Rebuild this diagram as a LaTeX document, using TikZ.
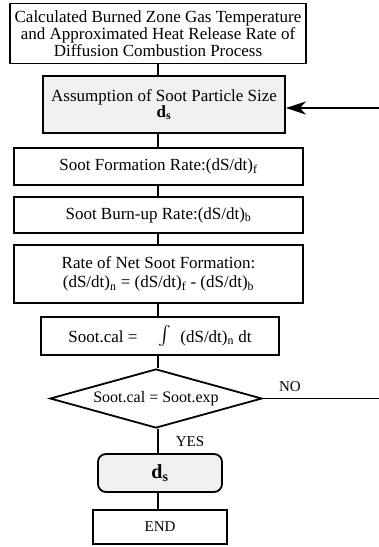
\documentclass[tikz,border=0pt]{standalone}
\usepackage{fontspec}
\usepackage{graphicx}
\setmainfont{Liberation Serif}
\usetikzlibrary{shapes.geometric,arrows.meta}
\begin{document}
\begin{tikzpicture}[x=1pt,y=-1pt,
  box/.style={draw,line width=1.8pt,inner sep=0pt,align=center,font=\fontsize{17}{16.8}\selectfont},
  shade/.style={fill=gray!12},
  conn/.style={line width=2.6pt},
  lbl/.style={font=\fontsize{15}{16}\selectfont}]
\useasboundingbox (0,0) rectangle (379,547);
\coordinate (spine) at (158,0);
\node[box,minimum width=296pt,minimum height=60pt] (b1) at (158,33.5)
  {Calculated Burned Zone Gas Temperature\\and Approximated Heat Release Rate of\\Diffusion Combustion Process};
\node[box,shade,minimum width=242pt,minimum height=57pt] (b2) at (164,104.5)
  {Assumption of Soot Particle Size\\[-1pt]{\bfseries d\textsubscript{s}}};
\node[box,minimum width=289pt,minimum height=37pt] (b3) at (158.5,166.5)
  {Soot Formation Rate:(dS/dt)\textsubscript{f}};
\node[box,minimum width=289pt,minimum height=36pt] (b4) at (158.5,215)
  {Soot Burn-up Rate:(dS/dt)\textsubscript{b}};
\node[box,minimum width=289pt,minimum height=58pt] (b5) at (158.5,274)
  {Rate of Net Soot Formation:\\[2pt](dS/dt)\textsubscript{n} = (dS/dt)\textsubscript{f} - (dS/dt)\textsubscript{b}};
\node[box,minimum width=238pt,minimum height=38pt] (b6) at (160,336)
  {Soot.cal = \quad\raisebox{-2pt}{\scalebox{1.9}{$\int$}}\; (dS/dt)\textsubscript{n} dt};
\node[draw,line width=1.8pt,diamond,aspect=3.6,inner sep=0pt,minimum width=212pt,minimum height=59pt,font=\fontsize{16}{16}\selectfont] (d) at (156,398.5)
  {Soot.cal = Soot.exp};
\node[box,shade,rounded corners=8pt,minimum width=124pt,minimum height=38pt,font=\fontsize{20}{22}\selectfont] (b7) at (160,473)
  {\bfseries d\textsubscript{s}};
\node[box,minimum width=134pt,minimum height=34pt,font=\fontsize{15}{16}\selectfont] (b8) at (160,527) {END};
\coordinate (noend) at (379,398.5);
\coordinate (loopin) at (379,108);
\draw[conn] (b1.south -| spine) -- (b2.north -| spine);
\draw[conn] (b2.south -| spine) -- (b3.north -| spine);
\draw[conn] (b3.south -| spine) -- (b4.north -| spine);
\draw[conn] (b4.south -| spine) -- (b5.north -| spine);
\draw[conn] (b5.south -| spine) -- (b6.north -| spine);
\draw[conn] (b6.south -| spine) -- (d.north -| spine);
\draw[conn] (d.south -| spine) -- (b7.north -| spine);
\draw[conn] (b7.south -| spine) -- (b8.north -| spine);
\draw[line width=1.8pt] (d.east) -- (noend);
\draw[line width=1.8pt,-{Stealth[length=20pt,width=13pt,inset=6pt]}] (loopin) -- (b2.east |- loopin);
\node[lbl] (no) at (290,387) {NO};
\node[lbl] (yes) at (190,442) {YES};
\end{tikzpicture}
\end{document}
